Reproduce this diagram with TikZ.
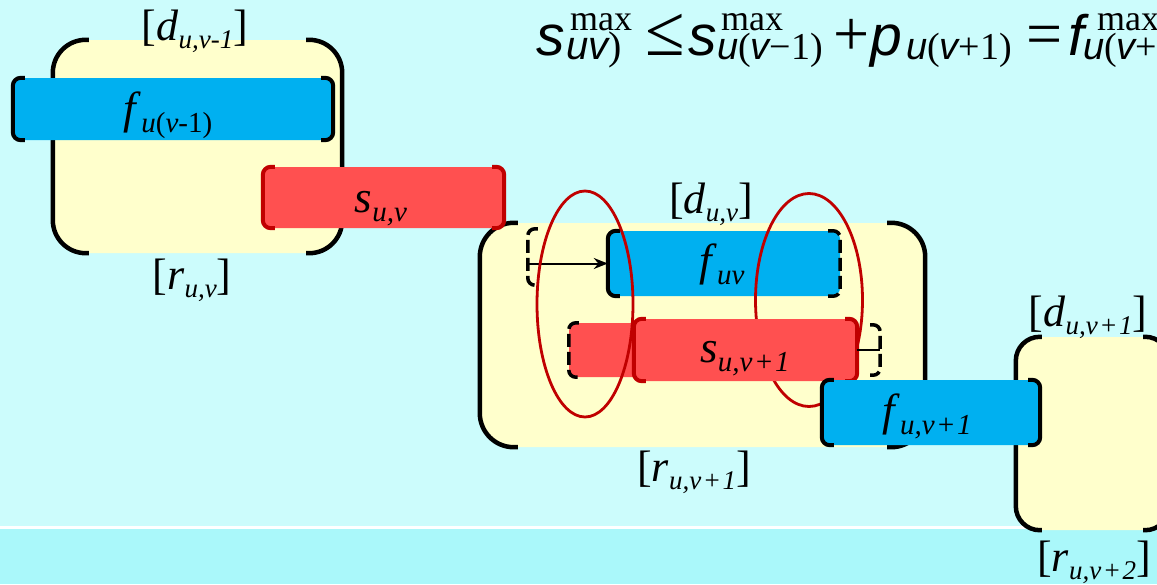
\documentclass[tikz,border=0pt]{standalone}
\usepackage{fontspec}
\setmainfont{Liberation Serif}
\newfontfamily\fsans{Liberation Sans}
\usetikzlibrary{arrows.meta,shapes.geometric}
\definecolor{bgtop}{HTML}{CCFCFC}
\definecolor{bgbot}{HTML}{AAF8FA}
\definecolor{yel}{HTML}{FFFFCC}
\definecolor{blu}{HTML}{00B0F0}
\definecolor{rd}{HTML}{FF5050}
\definecolor{drd}{HTML}{C00000}
\newcommand\FS[1]{\fontsize{#1}{#1}\selectfont}
\newcommand\sit[1]{{\fsans\itshape #1}}
\newcommand\pl{\hspace{1.5pt}+\hspace{1.5pt}}
\newcommand\lbl[2]{\FS{44}[\textit{#1}\raisebox{-8pt}{\FS{27}\textit{#2}}]}
\newcommand\blb[2]{\FS{45}\textit{#1}\raisebox{-9pt}{\FS{29}#2}}
% left / right bracket on a node: #1 options, #2 node, #3 stub length
\newcommand\lbrk[3]{\draw[#1] ([xshift=#3]#2.north west) -- (#2.north west) -- (#2.south west) -- ([xshift=#3]#2.south west);}
\newcommand\rbrk[3]{\draw[#1] ([xshift=-#3]#2.north east) -- (#2.north east) -- (#2.south east) -- ([xshift=-#3]#2.south east);}
\tikzset{
  boxnode/.style={fill=yel, rounded corners=#1, inner sep=0pt, draw=none},
  barnode/.style={fill=#1, rounded corners=8pt, inner sep=0pt, draw=none},
  boxbrk/.style={line width=4.5pt, black, rounded corners=#1},
  barbrk/.style={line width=4pt, #1, rounded corners=8pt},
  dbrk/.style={line width=3.5pt, black, rounded corners=7pt, dash pattern=on 13pt off 5pt},
  ell/.style={draw=drd, line width=2.8pt, ellipse, inner sep=0pt, fill=none},
  lab/.style={anchor=base, inner sep=0pt},
  fml/.style={anchor=base west, inner sep=0pt},
  arr/.style={line width=2pt, -{Stealth[length=14pt,width=11pt]}},
  conn/.style={line width=1.8pt}
}
\begin{document}
\begin{tikzpicture}[x=1pt,y=-1pt]
\useasboundingbox (0,0) rectangle (1157,584);
\clip (0,0) rectangle (1157,584);
% background
\fill[bgtop] (0,0) rectangle (1157,526);
\fill[white] (0,526) rectangle (1157,529);
\fill[bgbot] (0,529) rectangle (1157,584);

% yellow boxes
\node[boxnode=33pt, minimum width=289pt, minimum height=213pt] (B1) at (197.5,146.5) {};
\lbrk{boxbrk=33pt}{B1}{36pt}
\rbrk{boxbrk=33pt}{B1}{36pt}
\node[boxnode=34pt, minimum width=445pt, minimum height=224pt] (B2) at (702.5,335) {};
\lbrk{boxbrk=34pt}{B2}{38pt}
\rbrk{boxbrk=34pt}{B2}{38pt}
\node[boxnode=24pt, minimum width=153pt, minimum height=193pt] (B3) at (1092.5,433.5) {};
\lbrk{boxbrk=24pt}{B3}{26pt}
\rbrk{boxbrk=24pt}{B3}{26pt}

% bar f_{u(v-1)}
\node[barnode=blu, minimum width=320pt, minimum height=62pt] (fA) at (173,109) {};
\lbrk{barbrk=black}{fA}{12pt}
\rbrk{barbrk=black}{fA}{12pt}
% bar s_{u,v}
\node[barnode=rd, minimum width=241pt, minimum height=61pt] (sA) at (383.5,197.5) {};
\lbrk{barbrk=drd}{sA}{12pt}
\rbrk{barbrk=drd}{sA}{12pt}
% bar f_{uv}
\node[barnode=blu, minimum width=232pt, minimum height=65pt] (fB) at (724,263.5) {};
\lbrk{barbrk=black}{fB}{12pt}
\rbrk{dbrk}{fB}{12pt}
% dashed start bracket and arrow
\node[inner sep=0pt, minimum width=12pt, minimum height=56pt] (gL) at (534,257) {};
\lbrk{dbrk}{gL}{10pt}
\draw[arr] (gL.west |- fB.west) -- (fB.west);
% shadow of s_{u,v+1}
\node[barnode=rd, minimum width=71pt, minimum height=54pt] (sS) at (604.5,350) {};
\lbrk{dbrk}{sS}{10pt}
% ellipses
\node[ell, minimum width=96pt, minimum height=226pt] (E1) at (585,304) {};
\node[ell, minimum width=107pt, minimum height=213pt] (E2) at (809,300) {};
% bar s_{u,v+1}
\node[barnode=rd, minimum width=223pt, minimum height=62pt] (sB) at (745.5,350) {};
\lbrk{barbrk=drd}{sB}{12pt}
\rbrk{barbrk=drd}{sB}{12pt}
\node[inner sep=0pt, minimum width=10pt, minimum height=50pt] (gR) at (875,350) {};
\draw[conn] (sB.east) -- (sB.east -| gR.east);
\rbrk{dbrk}{gR}{10pt}
% bar f_{u,v+1}
\node[barnode=blu, minimum width=218pt, minimum height=65pt] (fC) at (931,412.5) {};
\lbrk{barbrk=black}{fC}{12pt}
\rbrk{barbrk=black}{fC}{12pt}

% labels
\node[lab] (Ld1) at (195,40) {\lbl{d}{u,v-1}};
\node[lab] (Lr1) at (192,289) {\lbl{r}{u,v}};
\node[lab] (Ld2) at (711,213) {\lbl{d}{u,v}};
\node[lab] (Lr2) at (694,481) {\lbl{r}{u,v\pl 1}};
\node[lab] (Ld3) at (1088,326) {\lbl{d}{u,v\pl 1}};
\node[lab] (Lr3) at (1094,571) {\lbl{r}{u,v\pl 2}};
\node[lab] (tA) at (168,123) {\blb{f}{\textit{u}(\textit{v}-1)}};
\node[lab] (tS) at (381,212) {\blb{s}{\textit{u,v}}};
\node[lab] (tB) at (722,275) {\blb{f}{\textit{uv}}};
\node[lab] (tSB) at (745,362) {\blb{s}{\textit{u,v\pl 1}}};
\node[lab] (tC) at (927,425) {\blb{f}{\textit{u,v\pl 1}}};

% formula
\node[fml] (F1) at (536,55) {\FS{57}\sit{s}};
\node[fml] (F2) at (570,30) {\FS{36}max};
\node[fml] (F3) at (566,59) {\FS{40}\sit{uv})};
\node[fml] (F4) at (645,55) {\FS{72}≤};
\node[fml] (F5) at (688,55) {\FS{57}\sit{s}};
\node[fml] (F6) at (721,30) {\FS{36}max};
\node[fml] (F7) at (717,59) {\FS{38}\sit{u}(\sit{v}−1)};
\node[fml] (F8) at (833,55) {\FS{64}+};
\node[fml] (F9) at (870,55) {\FS{57}\sit{p}};
\node[fml] (F10) at (906,59) {\FS{38}\sit{u}(\sit{v}+1)};
\node[fml] (F11) at (1026,55) {\FS{64}=};
\node[fml] (F12) at (1068,55) {\FS{57}\sit{f}};
\node[fml] (F13) at (1097,30) {\FS{36}max};
\node[fml] (F14) at (1083,59) {\FS{38}\sit{u}(\sit{v}+1)};
\end{tikzpicture}
\end{document}
